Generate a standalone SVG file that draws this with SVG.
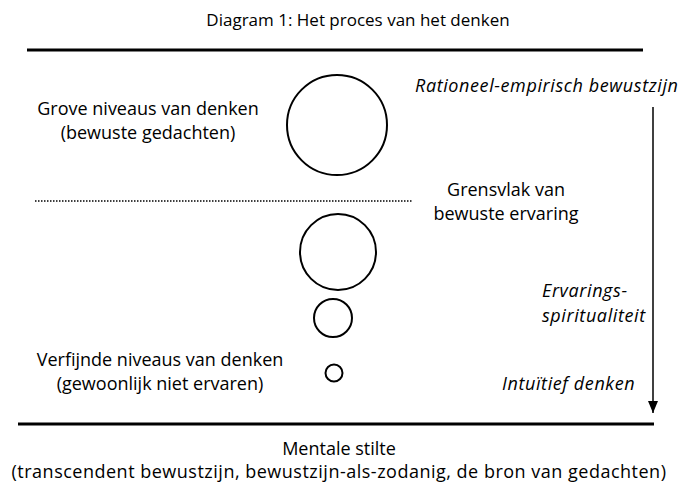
<svg xmlns="http://www.w3.org/2000/svg" width="678" height="486" viewBox="0 0 678 486">
<style>
text{font-family:"Open Sans","Liberation Sans",sans-serif;font-size:18px;fill:#000}
.c{text-anchor:middle}
.i{font-style:italic;letter-spacing:0.6px}
.circ{fill:none;stroke:#000;stroke-width:2}
.bar{stroke:#000;stroke-width:3}
</style>
<defs>
<marker id="ah" viewBox="0 0 12 10" refX="12" refY="5" markerWidth="12" markerHeight="10" markerUnits="userSpaceOnUse" orient="auto">
<path d="M0,0 L12,5 L0,10 z" fill="#000"/>
</marker>
</defs>
<rect width="678" height="486" fill="#fff"/>
<text id="title" class="c" x="358" y="26" style="font-size:17px">Diagram 1: Het proces van het denken</text>
<g id="connectors">
<line class="bar" x1="27" y1="50" x2="643" y2="50"/>
<line class="bar" x1="18" y1="424" x2="654" y2="424"/>
<line x1="35" y1="201" x2="413" y2="201" stroke="#000" stroke-width="1.5" stroke-dasharray="1.5,1.5"/>
<line x1="653" y1="107" x2="653" y2="413" stroke="#000" stroke-width="1.5" marker-end="url(#ah)"/>
</g>
<g id="n1"><circle class="circ" cx="337" cy="125" r="50"/></g>
<g id="n2"><circle class="circ" cx="338" cy="252" r="38"/></g>
<g id="n3"><circle class="circ" cx="333" cy="318" r="19"/></g>
<g id="n4"><circle class="circ" cx="334" cy="373" r="8.5"/></g>
<g id="grove"><text class="c" x="148" y="115">Grove niveaus van denken</text><text class="c" x="148" y="139">(bewuste gedachten)</text></g>
<g id="rationeel"><text class="i" x="415" y="92">Rationeel-empirisch bewustzijn</text></g>
<g id="grensvlak"><text class="c" x="506" y="196">Grensvlak van</text><text class="c" x="506" y="220">bewuste ervaring</text></g>
<g id="ervarings"><text class="i" x="542" y="297">Ervarings-</text><text class="i" x="542" y="322">spiritualiteit</text></g>
<g id="verfijnde"><text class="c" x="160" y="366">Verfijnde niveaus van denken</text><text class="c" x="160" y="390">(gewoonlijk niet ervaren)</text></g>
<g id="intuitief"><text class="i" x="502" y="390">Intuïtief denken</text></g>
<g id="stilte"><text class="c" x="339" y="455">Mentale stilte</text><text class="c" x="339" y="478" style="letter-spacing:0.5px">(transcendent bewustzijn, bewustzijn-als-zodanig, de bron van gedachten)</text></g>
</svg>
